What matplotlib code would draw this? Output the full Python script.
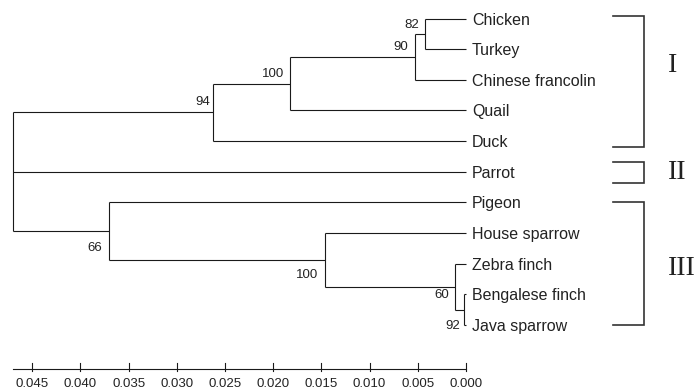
import matplotlib
matplotlib.use("Agg")
import matplotlib.pyplot as plt

# tree topology: (height, bootstrap, children, label offset in px) ; leaves are names
LEAVES = ["Chicken", "Turkey", "Chinese francolin", "Quail", "Duck", "Parrot",
          "Pigeon", "House sparrow", "Zebra finch", "Bengalese finch", "Java sparrow"]

n82 = (0.00425, 82, ["Chicken", "Turkey"], (-6, 6))
n90 = (0.00529, 90, [n82, "Chinese francolin"], (-7, 6.5))
n100a = (0.01826, 100, [n90, "Quail"], (-6, 6.5))
n94 = (0.02624, 94, [n100a, "Duck"], (-3, 7))
n92 = (0.00020, 92, ["Bengalese finch", "Java sparrow"], (-4, -19.5))
n60 = (0.00114, 60, ["Zebra finch", n92], (-6, -11))
n100b = (0.01463, 100, ["House sparrow", n60], (-7, -18.5))
n66 = (0.03703, 66, ["Pigeon", n100b], (-7, -19.5))
root = (0.04700, None, [n94, "Parrot", n66], (0, 0))

# scale bar
TICKS = [0.045, 0.040, 0.035, 0.030, 0.025, 0.020, 0.015, 0.010, 0.005, 0.000]

# clade brackets: numeral, first leaf, last leaf
GROUPS = [("I", "Chicken", "Duck"), ("II", "Parrot", "Parrot"), ("III", "Pigeon", "Java sparrow")]
GROUP_PAD = [(-0.08, 0.19, 1.53), (-0.32, 0.37, 5.01), (-0.01, 0.0, 8.14)]

LINE = "#1a1a1a"
fig = plt.figure(figsize=(6.95, 3.9), dpi=100)
ax = fig.add_axes([0, 0, 1, 1])
ax.set_xlim(0.04834, -0.02376)
ax.set_ylim(12.12, -0.604)
ax.axis("off")

leaf_y = {name: i for i, name in enumerate(LEAVES)}


def draw(node):
    if isinstance(node, str):
        return 0.0, leaf_y[node]
    height, support, children, (dx, dy) = node
    pos = [draw(c) for c in children]
    for ch, cy in pos:
        ax.plot([height, ch], [cy, cy], color=LINE, lw=0.8, solid_capstyle="butt")
    ys = [p[1] for p in pos]
    ax.plot([height, height], [ys[0], ys[-1]], color=LINE, lw=0.8, solid_capstyle="butt")
    y = (ys[0] + ys[-1]) / 2
    if support is not None:
        ax.annotate(str(support), (height, y), xytext=(dx, dy), textcoords="offset pixels",
                    ha="right", va="baseline", fontsize=9.5, family="Liberation Sans",
                    color="#222222")
    return height, y


draw(root)

for name, i in leaf_y.items():
    ax.annotate(name, (0.0, i), xytext=(6, 0), textcoords="offset pixels",
                ha="left", va="center_baseline", fontsize=11.5, family="Liberation Sans",
                color="#222222")

# brackets
bx_left, bx_right = -0.01525, -0.01846
for (numeral, first, last), (ptop, pbot, ny) in zip(GROUPS, GROUP_PAD):
    top = leaf_y[first] + ptop
    bot = leaf_y[last] + pbot
    ax.plot([bx_left, bx_right, bx_right, bx_left], [top, top, bot, bot],
            color="#333333", lw=1.2, solid_joinstyle="miter")
    ax.text(-0.02095, ny, numeral, ha="left", va="center", fontsize=20,
            family="Liberation Serif", color="#222222")

# scale axis
axis_y = 11.45
ax.plot([root[0], 0.0], [axis_y, axis_y], color=LINE, lw=0.8)
for t in TICKS:
    ax.plot([t, t], [11.24, 11.50], color=LINE, lw=0.8)
    ax.text(t, 11.72, f"{t:.3f}", ha="center", va="top", fontsize=9.5,
            family="Liberation Sans", color="#222222")

fig.savefig("out.png", dpi=100)
